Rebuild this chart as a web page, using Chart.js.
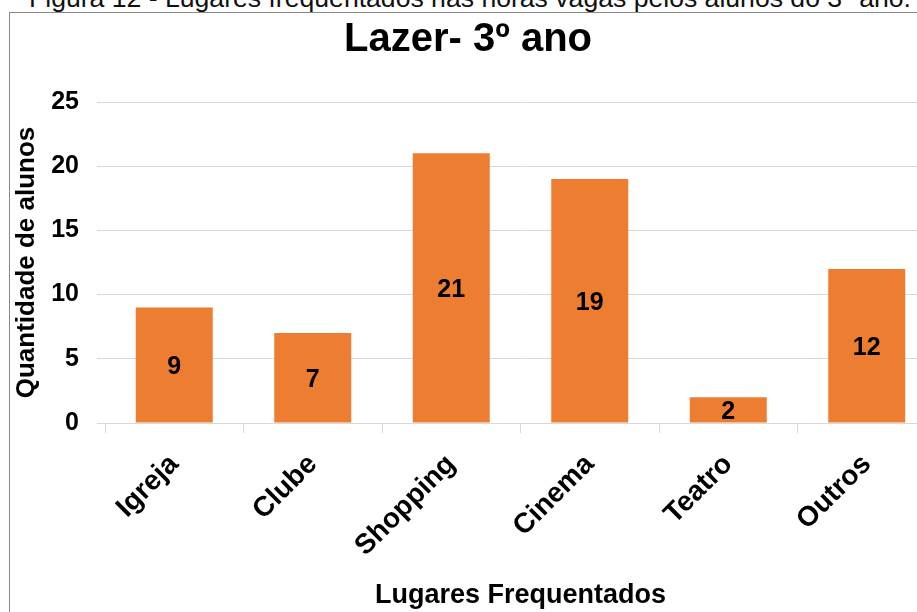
<!DOCTYPE html>
<html>
<head>
<meta charset="utf-8">
<script src="https://cdn.jsdelivr.net/npm/chart.js@4"></script>
<style>
  html, body { margin: 0; padding: 0; background: #fff; overflow: hidden; }
  body { width: 917px; height: 612px; position: relative; }
  #caption {
    position: absolute; left: 29px; top: -15px; white-space: nowrap;
    font: 26.6px "Liberation Sans", Arial, sans-serif; line-height: 1; color: #111;
  }
  #frame {
    position: absolute; left: 9px; top: 12px; width: 1000px; height: 700px;
    border: 1.5px solid #8a8a8a;
  }
  #wrap { position: absolute; left: 0; top: 0; width: 936px; height: 612px; }
</style>
</head>
<body>
<div id="caption">Figura 12 - Lugares frequentados nas horas vagas pelos alunos do 3º ano.</div>
<div id="frame"></div>
<div id="wrap"><canvas id="chartCanvas"></canvas></div>
<script>
const categories = ["Igreja", "Clube", "Shopping", "Cinema", "Teatro", "Outros"];
const alunos = [9, 7, 21, 19, 2, 12];
const yTicks = [0, 5, 10, 15, 20, 25];

const FONT = "'Liberation Sans', Arial, sans-serif";

// numbers in the middle of each bar
const barLabels = {
  id: "barLabels",
  afterDatasetsDraw(chart) {
    const ctx = chart.ctx;
    const meta = chart.getDatasetMeta(0);
    ctx.save();
    ctx.font = "bold 25px " + FONT;
    ctx.fillStyle = "#000";
    ctx.textAlign = "center";
    ctx.textBaseline = "middle";
    meta.data.forEach((bar, i) => {
      ctx.fillText(String(alunos[i]), bar.x, (bar.y + bar.base) / 2 + 2);
    });
    ctx.restore();
  }
};

new Chart(document.getElementById("chartCanvas"), {
  type: "bar",
  data: {
    labels: categories,
    datasets: [{
      label: "Quantidade de alunos",
      data: alunos,
      backgroundColor: "#ED7D31",
      categoryPercentage: 1,
      barPercentage: 0.556
    }]
  },
  options: {
    responsive: true,
    maintainAspectRatio: false,
    animation: false,
    layout: { padding: 0 },
    plugins: {
      legend: { display: false },
      tooltip: { enabled: false },
      title: {
        display: true,
        text: "Lazer- 3º ano",
        color: "#000",
        font: { family: FONT, size: 40, weight: "bold", lineHeight: 1.2 },
        padding: { top: 16, bottom: 38 }
      }
    },
    scales: {
      x: {
        afterFit(scale) { scale.height = 189; },
        grid: { display: true, drawOnChartArea: false, drawTicks: true, tickLength: 10, color: "#d9d9d9", offset: true },
        border: { display: true, color: "#d9d9d9" },
        ticks: {
          color: "#000",
          font: { family: FONT, size: 28, weight: "bold" },
          minRotation: 45,
          maxRotation: 45,
          padding: 15,
          autoSkip: false
        },
        title: {
          display: true,
          text: "Lugares Frequentados",
          color: "#000",
          font: { family: FONT, size: 27, weight: "bold", lineHeight: 1.2 },
          padding: { top: 0, bottom: 0 }
        }
      },
      y: {
        min: 0,
        max: 25,
        afterFit(scale) { scale.width = 105; },
        afterBuildTicks(scale) { scale.ticks = yTicks.map(v => ({ value: v })); },
        grid: { color: "#d9d9d9", drawTicks: true, tickLength: 8 },
        border: { display: false },
        ticks: {
          color: "#000",
          font: { family: FONT, size: 25, weight: "bold" },
          padding: 18
        },
        title: {
          display: true,
          text: "Quantidade de alunos",
          color: "#000",
          font: { family: FONT, size: 26, weight: "bold", lineHeight: 1.2 },
          padding: { top: 11, bottom: 0 }
        }
      }
    }
  },
  plugins: [barLabels]
});
</script>
</body>
</html>
